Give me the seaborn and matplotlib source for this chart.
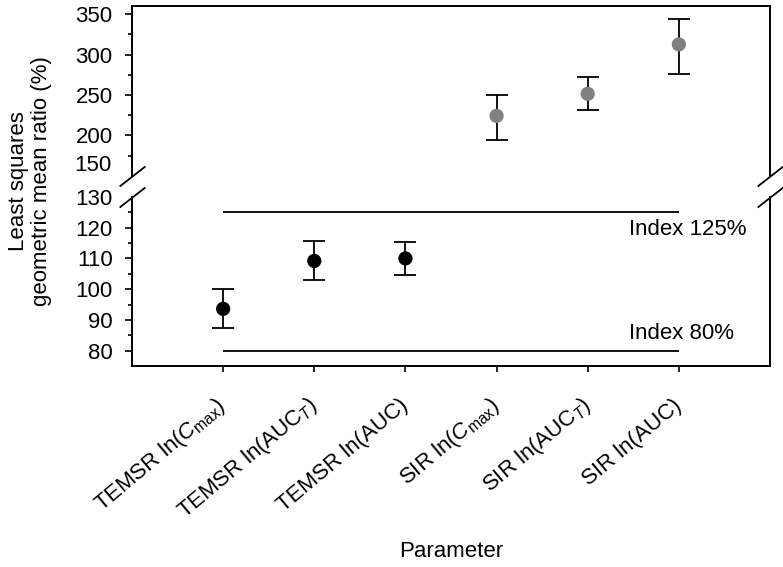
import numpy as np
import pandas as pd
import seaborn as sns
import matplotlib
matplotlib.use('Agg')
import matplotlib.pyplot as plt

# Data.
params = [r'TEMSR ln($\mathit{C}_{\mathrm{max}}$)',
          r'TEMSR ln(AUC$_{\mathit{T}}$)',
          'TEMSR ln(AUC)',
          r'SIR ln($\mathit{C}_{\mathrm{max}}$)',
          r'SIR ln(AUC$_{\mathit{T}}$)',
          'SIR ln(AUC)']
group = ['TEMSR', 'TEMSR', 'TEMSR', 'SIR', 'SIR', 'SIR']
ratio = [93.6, 109.2, 110.0, 224.1, 251.4, 312.5]
ci_low = [87.5, 103.1, 104.6, 194.1, 231.6, 275.4]
ci_high = [100.0, 115.6, 115.4, 250.1, 272.0, 343.4]
index_levels = [125, 80]
index_labels = ['Index 125%', 'Index 80%']

df = pd.DataFrame({'param': params, 'group': group, 'ratio': ratio,
                   'low': ci_low, 'high': ci_high})
df['x'] = np.arange(len(df))

FS = 16
sns.set_style('ticks')
plt.rcParams['font.family'] = ['Liberation Sans', 'DejaVu Sans']
plt.rcParams['mathtext.fontset'] = 'custom'
plt.rcParams['mathtext.rm'] = 'Liberation Sans'
plt.rcParams['mathtext.it'] = 'Liberation Sans:italic'
plt.rcParams['mathtext.bf'] = 'Liberation Sans:bold'
plt.rcParams['font.size'] = FS
for key in ['text.color', 'axes.labelcolor', 'xtick.color', 'ytick.color',
            'xtick.labelcolor', 'ytick.labelcolor']:
    plt.rcParams[key] = 'black'

fig = plt.figure(figsize=(7.83, 5.67), dpi=100)
W, H = 783, 567
left, right = 132 / W, 770 / W
ax_top = fig.add_axes([left, 1 - 175.8 / H, right - left, (175.8 - 6) / H])
ax_bot = fig.add_axes([left, 1 - 366 / H, right - left, (366 - 197) / H])

colors = {'TEMSR': 'black', 'SIR': '#808080'}
for ax, grp in [(ax_bot, 'TEMSR'), (ax_top, 'SIR')]:
    sub = df[df['group'] == grp]
    ax.errorbar(sub['x'], sub['ratio'],
                yerr=[sub['ratio'] - sub['low'], sub['high'] - sub['ratio']],
                fmt='none', ecolor='black', elinewidth=1.3, capsize=8,
                capthick=1.3, zorder=2)
    sns.scatterplot(data=sub, x='x', y='ratio', ax=ax, color=colors[grp],
                    s=105, edgecolor='none', zorder=3, legend=False)

# Index lines, label below the upper one and above the lower one.
for lvl, lab, off in zip(index_levels, index_labels, [-5.6, 5.7]):
    ax_bot.hlines(lvl, df['x'].min(), df['x'].max(), color='black', lw=1.3)
    ax_bot.text(4.45, lvl + off, lab, ha='left', va='center', fontsize=FS)

for ax in (ax_top, ax_bot):
    ax.set_xlim(-1, 6)
    for s in ax.spines.values():
        s.set_linewidth(1.4)
        s.set_color('black')
    ax.tick_params(axis='y', which='major', direction='out', length=5,
                   width=1.2, pad=9)
    ax.tick_params(axis='y', which='minor', direction='out', length=3, width=1.2)
    ax.set_ylabel('')
    ax.set_xlabel('')

ax_top.set_ylim(150, 360)
ax_top.set_yticks([200, 250, 300, 350])
ax_top.set_yticks([175, 225, 275, 325], minor=True)
ax_top.spines['bottom'].set_visible(False)
ax_top.tick_params(axis='x', bottom=False, labelbottom=False)
ax_top.annotate('150', xy=(0, 150), xycoords=ax_top.get_yaxis_transform(),
                xytext=(-20, 10), textcoords='offset pixels',
                ha='right', va='center', fontsize=FS)

ax_bot.set_ylim(75, 130)
ax_bot.set_yticks([80, 90, 100, 110, 120, 130])
ax_bot.set_yticks([85, 95, 105, 115, 125], minor=True)
ax_bot.yaxis.get_major_ticks()[-1].tick1line.set_visible(False)
ax_bot.spines['top'].set_visible(False)
ax_bot.set_xticks(df['x'])
ax_bot.set_xticklabels(df['param'], rotation=40, ha='right',
                       rotation_mode='anchor', va='center')
ax_bot.tick_params(axis='x', direction='out', length=4.5, width=1.2, pad=22)
ax_bot.set_xlabel('Parameter', fontsize=FS, labelpad=12)

# Axis break marks.
d = 0.78
kw = dict(marker=[(-1, -d), (1, d)], markersize=18.5, linestyle='none',
          color='k', mec='k', mew=1.3, clip_on=False)
ax_top.plot([0, 1], [0, 0], transform=ax_top.transAxes, **kw)
ax_bot.plot([0, 1], [1, 1], transform=ax_bot.transAxes, **kw)

fig.text(30 / W, 1 - 181 / H, 'Least squares\ngeometric mean ratio (%)',
         rotation=90, ha='center', va='center', fontsize=FS,
         multialignment='center', linespacing=1.15)

fig.savefig('out.png', dpi=100)
